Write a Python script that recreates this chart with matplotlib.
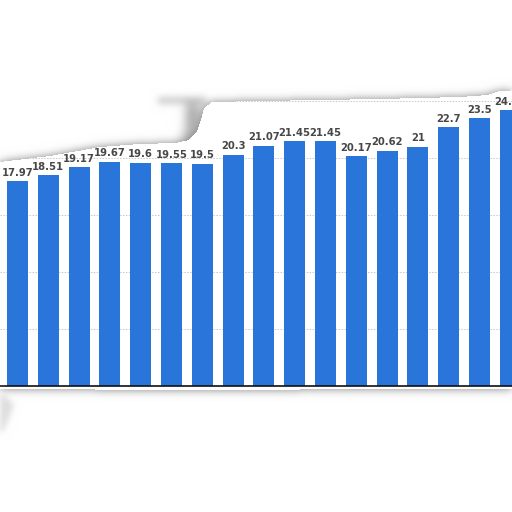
import numpy as np
import matplotlib
matplotlib.use("Agg")
import matplotlib.pyplot as plt
from matplotlib.path import Path

# values (left to right)
values = [17.97, 18.51, 19.17, 19.67, 19.6, 19.55, 19.5, 20.3, 21.07,
          21.45, 21.45, 20.17, 20.62, 21, 22.7, 23.5, 24.18]
labels = ["17.97", "18.51", "19.17", "19.67", "19.6", "19.55", "19.5", "20.3",
          "21.07", "21.45", "21.45", "20.17", "20.62", "21", "22.7", "23.5", "24.18"]
grid_ticks = [5, 10, 15, 20, 25]

W = 512
fig = plt.figure(figsize=(5.12, 5.12), dpi=100)
fig.patch.set_facecolor("white")

ax = fig.add_axes([0, 126 / W, 1, 342 / W])
x = np.arange(len(values))
ax.bar(x, values, width=0.68, color="#2a75d9", zorder=2)
for xi, v, lab in zip(x, values, labels):
    ax.annotate(lab, (xi, v), xytext=(0, 2.5), textcoords="offset points",
                ha="center", va="bottom", fontsize=7.2, fontweight="bold",
                family="DejaVu Sans", color="#474747", zorder=3)

ax.set_xlim(-17.5 / 30.8, (W - 17.5) / 30.8)
ax.set_ylim(0, 30)
ax.set_yticks(grid_ticks)
ax.yaxis.grid(True, linestyle=(0, (1.5, 1.5)), color="#c8c8c8", linewidth=0.7, zorder=0)
ax.tick_params(left=False, bottom=False, labelleft=False, labelbottom=False)
for s in ["top", "left", "right"]:
    ax.spines[s].set_visible(False)
ax.spines["bottom"].set_color("#111111")
ax.spines["bottom"].set_linewidth(1.2)
ax.spines["bottom"].set_zorder(4)


# torn paper overlay, built as an image in pixel coords (top-left origin)
def blur(a, sigma):
    r = int(3 * sigma)
    k = np.exp(-0.5 * (np.arange(-r, r + 1) / sigma) ** 2)
    k /= k.sum()
    p = np.pad(a, r, mode="constant")
    p = np.apply_along_axis(lambda v: np.convolve(v, k, "valid"), 1, p)
    p = np.apply_along_axis(lambda v: np.convolve(v, k, "valid"), 0, p)
    return p


def mask(poly):
    return Path(poly).contains_points(pts).reshape(W, W).astype(float)


yy, xx = np.mgrid[0:W, 0:W]
pts = np.column_stack([xx.ravel() + 0.5, yy.ravel() + 0.5])

top_edge = [(-10, 163), (0, 162), (50, 156), (100, 147), (140, 144), (176, 143),
            (189, 140), (197, 132), (201, 120), (204, 108), (212, 102), (260, 101),
            (380, 99), (460, 97), (488, 95), (500, 91), (522, 90)]
top = mask(top_edge + [(522, -20), (-10, -20)])
bot = mask([(-10, 389), (200, 390), (400, 389), (522, 389), (522, 530), (-10, 530)])

flap = np.clip(top + bot, 0, 1)
chart = 1 - flap
chart[:, :1] = 0  # avoid dark rim at image border
shade = blur(chart, 4.5) * flap * 0.48

# darker fold around the S-curve and spill left of it
fold = mask([(186, 104), (200, 104), (198, 125), (192, 138), (180, 141), (186, 130)])
shade += blur(fold, 5.0) * flap * 0.35
spill = mask([(158, 97), (206, 97), (206, 104), (158, 104)])
shade += blur(spill, 3.5) * 0.2

# small torn piece at lower left and left edge shading
piece = mask([(0, 394), (8, 398), (14, 405), (9, 418), (3, 432), (0, 432)])
shade += blur(piece, 3.0) * 0.13
edge = mask([(0, 160), (3, 160), (3, 389), (0, 389)])
shade += blur(edge, 2.5) * 0.12

alpha = np.clip(np.maximum(flap, shade), 0, 1)
grey = np.clip(1 - shade, 0, 1)
rgba = np.dstack([grey, grey, grey, alpha])

ov = fig.add_axes([0, 0, 1, 1], zorder=10)
ov.imshow(rgba, extent=[0, W, W, 0], interpolation="bilinear")
ov.set_xlim(0, W)
ov.set_ylim(W, 0)
ov.axis("off")
ov.patch.set_alpha(0)

fig.savefig("out.png", dpi=100)
